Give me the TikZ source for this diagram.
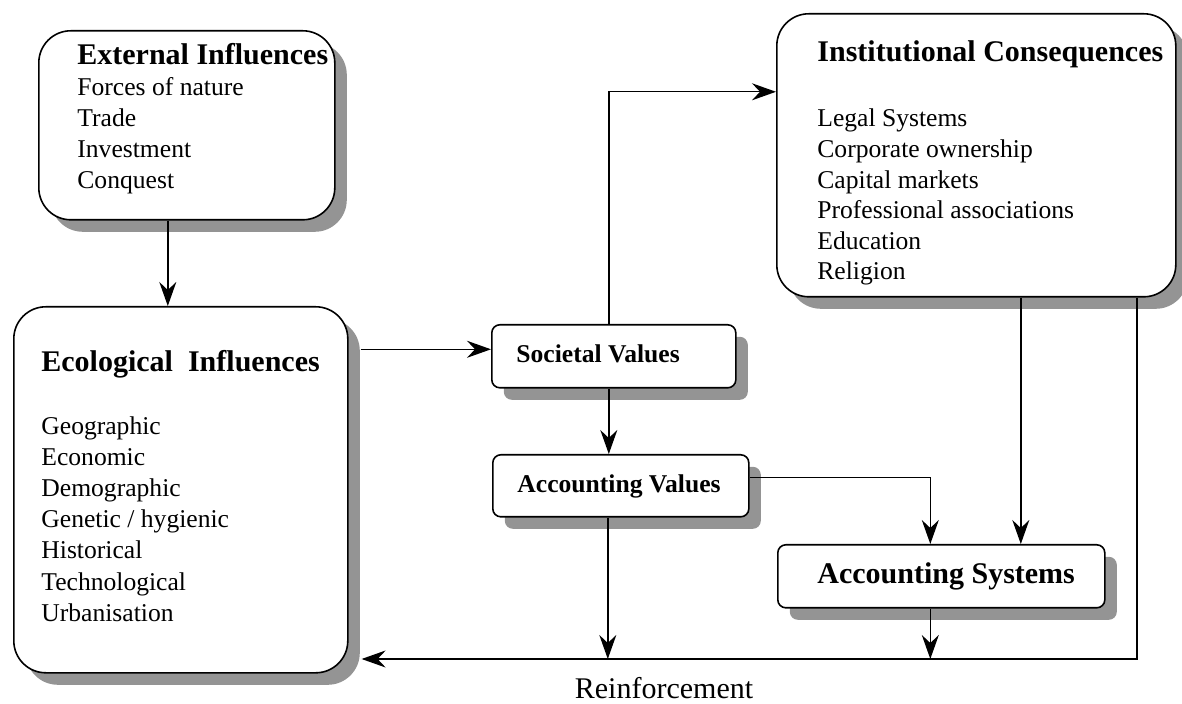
\documentclass[tikz,border=0pt]{standalone}
\usepackage{fontspec}
\setmainfont{Liberation Serif}
\usetikzlibrary{arrows.meta,shadows}

\begin{document}
\begin{tikzpicture}[
    x = 0.5pt,
    y = -0.5pt,
    box/.style = {draw, line width=0.8pt, fill=white, anchor=north west,
      inner sep=0pt,
      drop shadow={shadow xshift=6pt, shadow yshift=-6pt, fill=black!42,
        opacity=1}},
    bigbox/.style = {box, rounded corners=16pt},
    smallbox/.style = {box, rounded corners=4pt},
    title/.style = {anchor=base west, inner sep=0pt,
      font=\fontsize{15}{18}\selectfont\bfseries},
    label/.style = {anchor=base west, inner sep=0pt,
      font=\fontsize{12.8}{15}\selectfont\bfseries},
    item/.style = {anchor=base west, inner sep=0pt,
      font=\fontsize{12.8}{15}\selectfont},
    arr/.style = {-{Stealth[length=12pt, width=8.5pt, inset=4pt]},
      line width=0.7pt},
    ]
    \useasboundingbox (0,0) rectangle (1182,704);
    % boxes
    \node[bigbox, minimum width=148pt, minimum height=94.5pt] (ext) at (38,30) {};
    \node[bigbox, minimum width=167pt, minimum height=183pt] (eco) at (13,306) {};
    \node[bigbox, minimum width=199.5pt, minimum height=141.5pt] (inst) at (776,13) {};
    \node[smallbox, minimum width=122pt, minimum height=31.5pt] (soc) at (491,324) {};
    \node[smallbox, minimum width=128pt, minimum height=31pt] (accv) at (492,454) {};
    \node[smallbox, minimum width=163.5pt, minimum height=31.5pt] (accs) at (777,544) {};
    % box texts
    \node[title] (ext-t) at (77,65) {External Influences};
    \foreach \t [count=\i] in {Forces of nature, Trade, Investment, Conquest}
    \node[item] (ext-\i) at (77, 65+31*\i) {\t};
    \node[title] (eco-t) at (41,372) {Ecological\ \ Influences};
    \foreach \t [count=\i] in {Geographic, Economic, Demographic,
      Genetic / hygienic, Historical, Technological, Urbanisation}
    \node[item] (eco-\i) at (41, 404+31*\i) {\t};
    \node[title] (inst-t) at (817,62) {Institutional Consequences};
    \foreach \t [count=\i] in {Legal Systems, Corporate ownership,
      Capital markets, Professional associations, Education, Religion}
    \node[item] (inst-\i) at (817, 96.4+30.6*\i) {\t};
    \node[label] (soc-t) at (516,363) {Societal Values};
    \node[label] (accv-t) at (517,493) {Accounting Values};
    \node[title] (accs-t) at (817,584) {Accounting Systems};
    % feedback corner
    \coordinate (fb) at (1137,659);
    % arrows
    \draw[arr] ([xshift=-9.5pt]ext.south) -- ([xshift=-9.5pt]ext.south |- eco.north);
    \draw[arr] ([xshift=6pt, yshift=3.5pt]eco.east |- soc.west)
    -- ([yshift=3.5pt]soc.west);
    \draw[arr] ([xshift=-2.5pt]soc.north) |- ([yshift=31.75pt]inst.west);
    \draw[arr] ([xshift=-2.5pt]soc.south) -- ([xshift=-2.5pt]soc.south |- accv.north);
    \draw[arr] ([yshift=4pt]accv.east) -| ([xshift=-5.5pt]accs.north);
    \draw[arr] ([xshift=22.25pt]inst.south) -- ([xshift=22.25pt]inst.south |- accs.north);
    \draw[arr] (inst.south -| fb) -- (fb) -- ([xshift=6.5pt]fb -| eco.east);
    \draw[arr] ([xshift=-6.5pt]accv.south) -- ([xshift=-6.5pt]accv.south |- fb);
    \draw[arr] ([xshift=-5.5pt]accs.south) -- ([xshift=-5.5pt]accs.south |- fb);
    % label
    \node[anchor=base, inner sep=0pt, font=\fontsize{15}{18}\selectfont]
    (reinf) at (664,698) {Reinforcement};
  \end{tikzpicture}
\end{document}
